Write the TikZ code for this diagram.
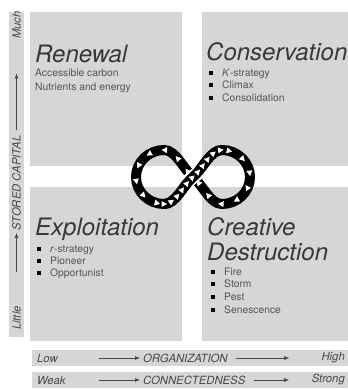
\documentclass[tikz,border=0pt]{standalone}
\usepackage{fontspec}
\setmainfont{TeX Gyre Heros}
\usetikzlibrary{arrows.meta, decorations.markings}
\definecolor{panel}{gray}{0.84}
\definecolor{titlegray}{gray}{0.22}
\definecolor{itemgray}{gray}{0.33}
\definecolor{axisgray}{gray}{0.28}

\begin{document}
\begin{tikzpicture}[x=1pt, y=-1pt,
  title/.style={font=\fontsize{24}{25}\selectfont\itshape, text=titlegray, anchor=base west, inner sep=0pt},
  item/.style={font=\fontsize{10.3}{12}\selectfont, text=itemgray, anchor=base west, inner sep=0pt},
  bullet/.style={fill=black, minimum size=4pt, inner sep=0pt},
  axislabel/.style={font=\fontsize{11.3}{13}\selectfont\itshape, text=axisgray, inner sep=0pt},
  barrow/.style={-{Latex[length=5pt,width=4pt]}, draw=axisgray, line width=0.6pt},
  tri/.style={decoration={markings, mark=between positions 0 and 1 step #1 with {\fill[white] (-2.5pt,-3pt) -- (3pt,0pt) -- (-2.5pt,3pt) -- cycle;}}},
  band/.style={draw=black, line width=10pt, postaction={decorate, tri=#1}}]
\useasboundingbox (0,0) rectangle (348,389);

% the four phases
\fill[panel] (30,12) rectangle (182,166);
\fill[panel] (202,12) rectangle (348,166);
\fill[panel] (30,187) rectangle (182,341);
\fill[panel] (202,187) rectangle (348,341);

\node[title] (renewal) at (35,62) {Renewal};
\node[item] (carbon) at (35,76) {Accessible carbon};
\node[item] (energy) at (35,90) {Nutrients and energy};

\node[title] (conservation) at (206,60) {Conservation};
\foreach \txt [count=\i] in {\textit{K}-strategy, Climax, Consolidation} {
  \node[item] (cons\i) at (222,63.5+12.5*\i) {\txt};
  \node[bullet] (consb\i) at ([xshift=-11pt, yshift=3.4pt]cons\i.base west) {};
}

\node[title] (exploitation) at (35,235) {Exploitation};
\foreach \txt [count=\i] in {\textit{r}-strategy, Pioneer, Opportunist} {
  \node[item] (expl\i) at (50,240+12*\i) {\txt};
  \node[bullet] (explb\i) at ([xshift=-11pt, yshift=3.4pt]expl\i.base west) {};
}

\node[title] (creative) at (207,235) {Creative};
\node[title] (destruction) at (207,260) {Destruction};
\foreach \txt [count=\i] in {Fire, Storm, Pest, Senescence} {
  \node[item] (dest\i) at (224,262.3+12.7*\i) {\txt};
  \node[bullet] (destb\i) at ([xshift=-11pt, yshift=3.4pt]dest\i.base west) {};
}

% the loop
\path[band=16pt] (193,177) .. controls (203,168.7) and (210,150) .. (222,150)
  .. controls (237.4,150) and (250,162.1) .. (250,177)
  .. controls (250,191.9) and (237.4,204) .. (222,204)
  .. controls (210,204) and (203,185.3) .. (193,177)
  .. controls (183,168.7) and (176,150) .. (164,150)
  .. controls (148.6,150) and (136,162.1) .. (136,177)
  .. controls (136,191.9) and (148.6,204) .. (164,204)
  .. controls (176,204) and (183,185.3) .. cycle;
\draw[white, line width=14pt] (186.8,182.1) -- (199.2,171.9);
\path[band=8pt] (164,204) .. controls (176,204) and (183,185.3) .. (193,177)
  .. controls (203,168.7) and (210,150) .. (222,150);

% stored capital
\fill[panel] (9,12) rectangle (24,337);
\node[axislabel, rotate=90] (little) at (16.5,318) {Little};
\node[axislabel, rotate=90] (stored) at (16.5,183) {STORED CAPITAL};
\node[axislabel, rotate=90] (much) at (16.5,25) {Much};
\draw[barrow, shorten <=34pt, shorten >=2.5pt] (little) -- (stored);
\draw[barrow, shorten <=5.5pt, shorten >=34.5pt] (stored) -- (much);

% organization
\fill[panel] (32,350) rectangle (348,366);
\node[axislabel, anchor=west] (low) at (37,358) {Low};
\node[axislabel, anchor=west] (org) at (143,358) {ORGANIZATION};
\node[axislabel, anchor=east] (high) at (345,358) {High};
\draw[barrow, shorten <=41pt, shorten >=3pt] (low) -- (org);
\draw[barrow, shorten <=8pt, shorten >=32pt] (org) -- (high);

% connectedness
\fill[panel] (32,372) rectangle (348,388);
\node[axislabel, anchor=west] (weak) at (37,380) {Weak};
\node[axislabel, anchor=west] (conn) at (143,380) {CONNECTEDNESS};
\node[axislabel, anchor=east] (strong) at (345,380) {Strong};
\draw[barrow, shorten <=33pt, shorten >=3pt] (weak) -- (conn);
\draw[barrow, shorten <=8pt, shorten >=22.6pt] (conn) -- (strong);
\end{tikzpicture}
\end{document}
